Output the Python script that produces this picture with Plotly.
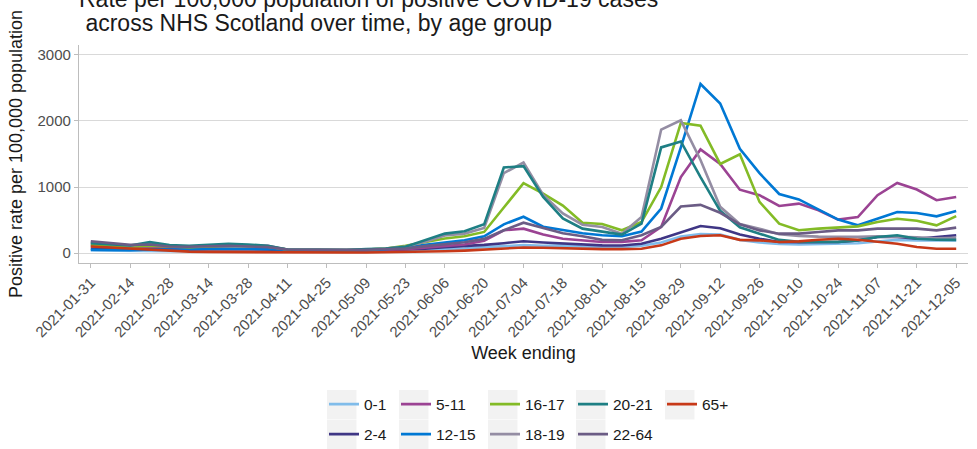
import plotly.graph_objects as go

weeks = ["2021-01-31","2021-02-07","2021-02-14","2021-02-21","2021-02-28","2021-03-07","2021-03-14",
         "2021-03-21","2021-03-28","2021-04-04","2021-04-11","2021-04-18","2021-04-25","2021-05-02",
         "2021-05-09","2021-05-16","2021-05-23","2021-05-30","2021-06-06","2021-06-13","2021-06-20",
         "2021-06-27","2021-07-04","2021-07-11","2021-07-18","2021-07-25","2021-08-01","2021-08-08",
         "2021-08-15","2021-08-22","2021-08-29","2021-09-05","2021-09-12","2021-09-19","2021-09-26",
         "2021-10-03","2021-10-10","2021-10-17","2021-10-24","2021-10-31","2021-11-07","2021-11-14",
         "2021-11-21","2021-11-28","2021-12-05"]

age_0_1 = [40,35,30,35,30,30,35,40,40,35,25,25,25,25,30,35,45,50,60,70,90,
           100,120,110,117,100,90,90,110,160,250,290,280,200,160,140,132,135,140,150,175,200,190,185,190]
age_2_4 = [70,60,50,60,55,55,60,65,60,55,35,35,35,35,40,45,55,65,90,105,125,
           150,180,160,142,125,117,115,142,218,319,410,375,280,218,167,165,167,167,193,243,243,218,243,269]
age_5_11 = [110,95,80,100,85,80,95,110,115,110,50,45,45,40,45,50,60,80,110,130,185,
            345,370,280,218,193,167,170,193,395,1150,1570,1350,960,876,713,749,648,507,546,876,1062,962,800,850]
age_12_15 = [50,45,45,55,50,55,65,70,65,60,45,40,40,40,45,60,85,125,165,195,255,
             435,550,400,350,300,270,255,325,675,1600,2560,2265,1580,1210,895,812,660,507,420,527,622,607,557,637]
age_16_17 = [130,110,95,110,95,90,100,110,105,95,55,50,50,45,55,70,110,160,220,255,320,
             690,1060,900,720,460,440,345,470,1000,1970,1930,1350,1495,775,445,345,370,385,405,470,520,490,420,560]
age_18_19 = [160,135,115,140,110,100,110,120,110,100,55,55,50,45,55,70,100,170,265,295,380,
             1210,1370,880,600,430,395,294,546,1870,2010,1410,700,440,370,285,260,250,245,245,255,250,240,225,230]
age_20_21 = [150,130,115,165,120,110,125,140,130,110,55,55,55,45,60,70,95,200,295,330,435,
             1296,1316,850,525,370,320,280,446,1600,1690,1150,640,390,294,200,170,165,170,193,243,269,218,203,200]
age_22_64 = [180,150,125,130,100,95,100,110,100,90,55,50,50,45,50,55,70,105,140,165,215,
             345,460,375,300,255,200,195,270,395,705,730,610,435,344,294,294,319,344,344,370,370,370,344,385]
age_65 = [100,85,66,50,30,22,18,15,12,10,8,8,8,8,10,12,15,20,28,38,55,
          75,85,80,70,66,60,60,66,117,218,258,269,200,193,167,177,203,218,203,167,142,91,66,66]

series_names = ["0-1","2-4","5-11","12-15","16-17","18-19","20-21","22-64","65+"]
series_values = [age_0_1, age_2_4, age_5_11, age_12_15, age_16_17, age_18_19, age_20_21, age_22_64, age_65]
series_colors = ["#80BCEA","#3F3685","#9B4393","#0078D4","#83BB26","#948DA3","#1E7F84","#6B5C85","#C73918"]

y_ticks = [0, 1000, 2000, 3000]
x_ticks = weeks[::2]

title_lines = ["Rate per 100,000 population of positive COVID-19 cases",
               "\u00a0across NHS Scotland over time, by age group"]

FONT = "Liberation Sans, Arial, sans-serif"
W, H = 977, 449
ML, MR, MT, MB = 79, 9, 45, 186
PW, PH = W - ML - MR, H - MT - MB

def px_x(x):
    return (x - ML) / PW

def px_y(y):
    return (H - MB - y) / PH

# legend layout (column-major like ggplot): box left x per column, row tops
col_left = [327, 399, 488, 576, 665]
row_top = [390, 420]

fig = go.Figure()
layout_legends = {}
shapes = []
for i, (name, vals, col) in enumerate(zip(series_names, series_values, series_colors)):
    lname = "legend" if i == 0 else f"legend{i+1}"
    fig.add_trace(go.Scatter(x=weeks, y=vals, name=name, mode="lines",
                             line=dict(color=col, width=2.6),
                             legend=lname))
    c, r = i // 2, i % 2
    x0 = col_left[c]
    yc = row_top[r] + 14.5
    layout_legends[lname] = dict(
        x=px_x(x0 - 3), y=px_y(yc), xanchor="left", yanchor="middle",
        orientation="h", bgcolor="rgba(0,0,0,0)", borderwidth=0,
        font=dict(family=FONT, size=15.5, color="#1a1a1a"),
        tracegroupgap=0,
    )
    shapes.append(dict(type="rect", xref="paper", yref="paper",
                       x0=px_x(x0), x1=px_x(x0 + 29.5),
                       y0=px_y(row_top[r] + 29.5), y1=px_y(row_top[r]),
                       fillcolor="#f2f2f2", line=dict(width=0), layer="below"))

title_centres = [-1, 23]
annotations = [dict(text=t, xref="paper", yref="paper",
                    x=px_x(77), y=px_y(yc), xanchor="left", yanchor="middle",
                    align="left", showarrow=False,
                    font=dict(family=FONT, size=23, color="#1a1a1a"))
               for t, yc in zip(title_lines, title_centres)]

fig.update_layout(
    width=W, height=H,
    margin=dict(l=ML, r=MR, t=MT, b=MB, autoexpand=False),
    paper_bgcolor="white", plot_bgcolor="white",
    font=dict(family=FONT, color="#1a1a1a"),
    shapes=shapes,
    showlegend=True,
    annotations=annotations,
    **layout_legends,
)

fig.update_xaxes(
    type="category", categoryorder="array", categoryarray=weeks,
    range=[-0.6, len(weeks) - 1 + 0.6], automargin=False,
    tickmode="array", tickvals=x_ticks, ticktext=x_ticks, tickangle=-45,
    tickfont=dict(family=FONT, size=15, color="#4d4d4d"),
    ticks="outside", ticklen=4, tickcolor="#bdbdbd", tickwidth=1.2,
    showline=True, linecolor="#bdbdbd", linewidth=1.3,
    showgrid=False, zeroline=False,
    title=dict(text="Week ending", font=dict(family=FONT, size=18, color="#1a1a1a"), standoff=7),
)
fig.update_yaxes(
    range=[-150, 3150], automargin=False,
    tickmode="array", tickvals=y_ticks, ticktext=[str(v) for v in y_ticks],
    tickfont=dict(family=FONT, size=15, color="#4d4d4d"),
    ticks="outside", ticklen=4, tickcolor="#bdbdbd", tickwidth=1.2,
    showline=True, linecolor="#bdbdbd", linewidth=1.3,
    showgrid=True, gridcolor="#d9d9d9", gridwidth=1.3, zeroline=False,
    title=dict(text="Positive rate per 100,000 population", font=dict(family=FONT, size=18, color="#1a1a1a"), standoff=10),
)

fig.write_html("out.html", config={"displayModeBar": False},
               post_script="document.body.style.margin='0';document.body.style.overflow='hidden';")
